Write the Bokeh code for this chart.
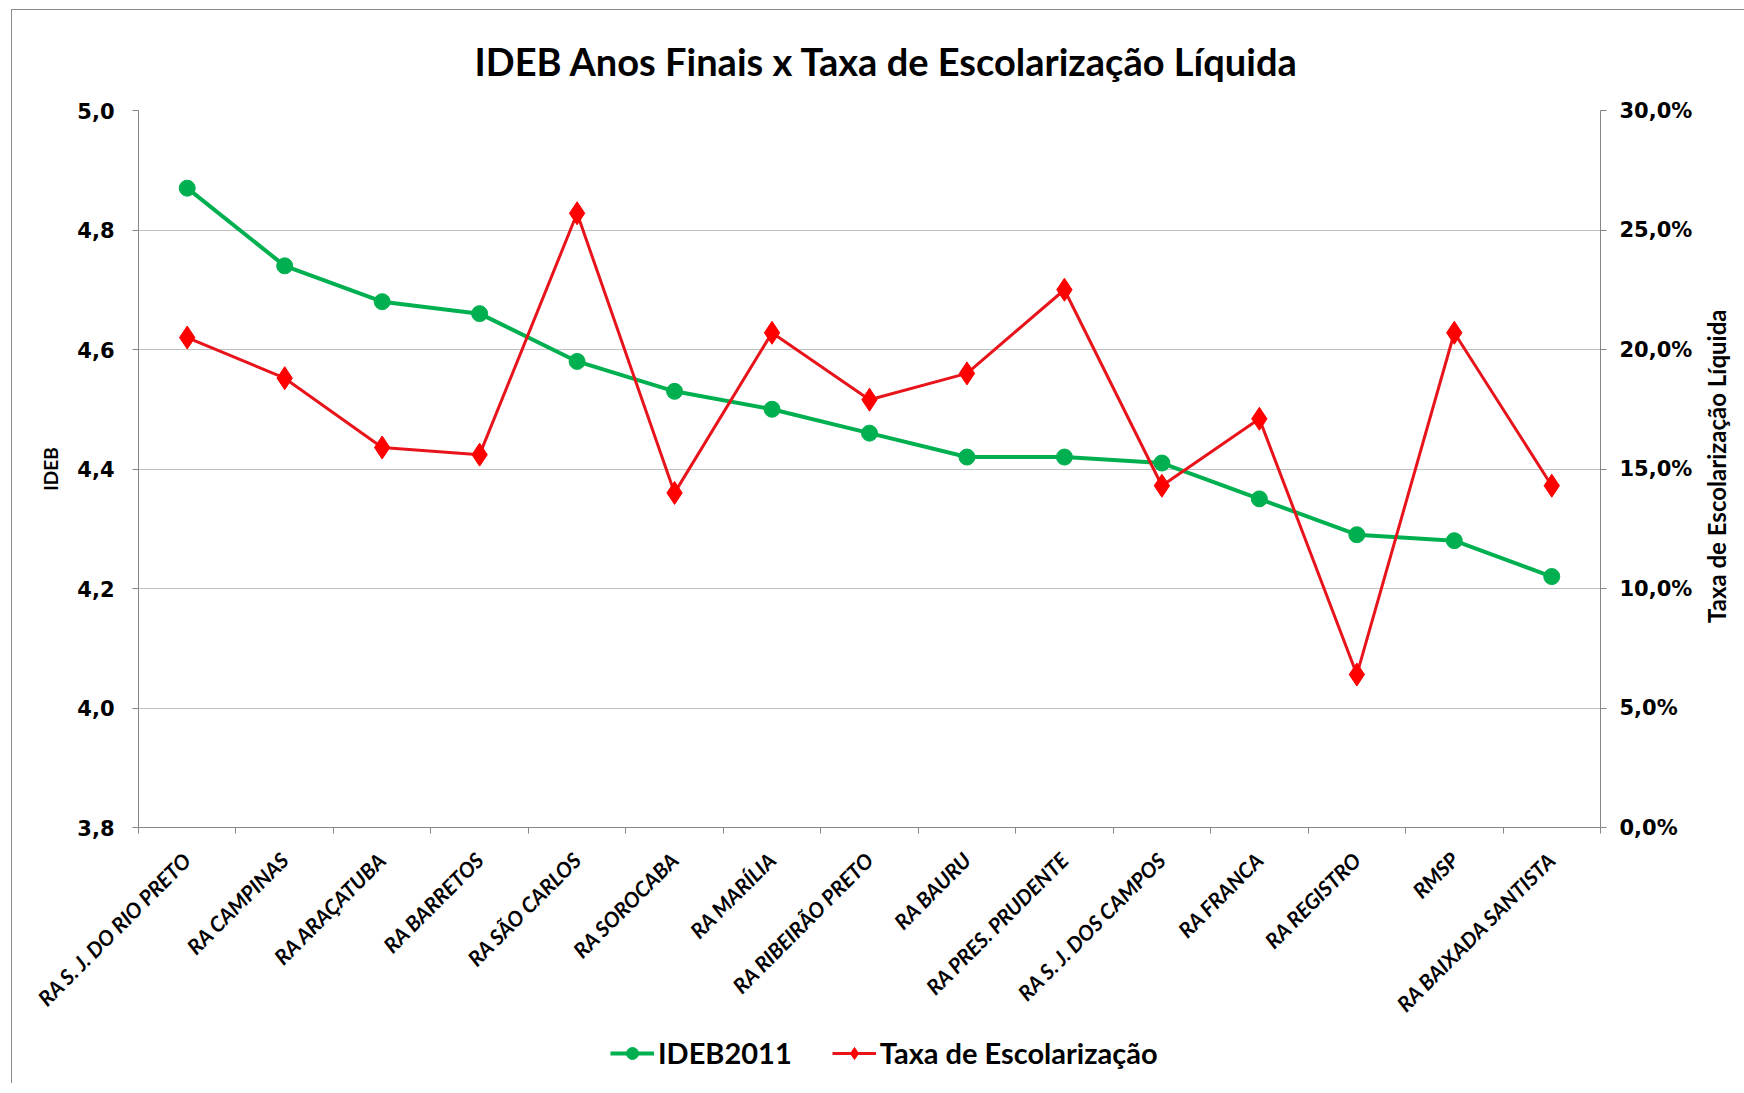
import math
from bokeh.plotting import figure
from bokeh.layouts import column
from bokeh.models import (Range1d, LinearAxis, FixedTicker, CustomJSTickFormatter,
                          Legend, LegendItem, Grid)
from bokeh.embed import file_html
from bokeh.resources import INLINE

regions = ["RA S. J. DO RIO PRETO", "RA CAMPINAS", "RA ARAÇATUBA", "RA BARRETOS",
           "RA SÃO CARLOS", "RA SOROCABA", "RA MARÍLIA", "RA RIBEIRÃO PRETO",
           "RA BAURU", "RA PRES. PRUDENTE", "RA S. J. DOS CAMPOS", "RA FRANCA",
           "RA REGISTRO", "RMSP", "RA BAIXADA SANTISTA"]
ideb2011 = [4.87, 4.74, 4.68, 4.66, 4.58, 4.53, 4.50, 4.46, 4.42, 4.42, 4.41, 4.35, 4.29, 4.28, 4.22]
taxa = [20.5, 18.8, 15.9, 15.6, 25.7, 14.0, 20.7, 17.9, 19.0, 22.5, 14.3, 17.1, 6.4, 20.7, 14.3]
ideb_ticks = [3.8, 4.0, 4.2, 4.4, 4.6, 4.8, 5.0]
taxa_ticks = [0, 5, 10, 15, 20, 25, 30]
title_text = "IDEB Anos Finais x Taxa de Escolarização Líquida"
right_title = "Taxa de Escolarização Líquida"

GREEN = "#00B050"
RED = "#FF0000"
REDLINE = "#E8141B"
AXIS = "#868686"
GRID = "#C0C0C0"

FRAME_H = 717
xs = list(range(len(regions)))

p = figure(frame_width=1462, frame_height=FRAME_H, output_backend="svg", toolbar_location=None,
           x_range=Range1d(-0.5, len(regions) - 0.5), y_range=Range1d(3.8, 5.0),
           min_border_left=126, min_border_right=137, min_border_top=100,
           min_border_bottom=200, x_axis_location=None, y_axis_location=None)
p.outline_line_color = None
p.background_fill_color = "white"
p.border_fill_color = "white"
p.extra_y_ranges = {"taxa": Range1d(0, 30)}

p.title.text = title_text
p.title.align = "left"
p.title.offset = 336
p.title.standoff = 50
p.title.vertical_align = "top"
p.title.text_font = "Lato"
p.title.text_font_style = "bold"
p.title.text_font_size = "38px"
p.title.text_color = "black"

# Left axis
yl = LinearAxis(ticker=FixedTicker(ticks=ideb_ticks))
yl.formatter = CustomJSTickFormatter(code="return tick.toFixed(1).replace('.', ',');")
yl.axis_label = "IDEB"
yl.axis_label_text_font = "Lato"
yl.axis_label_text_font_style = "bold"
yl.axis_label_text_font_size = "19px"
yl.axis_label_text_color = "black"
yl.axis_label_standoff = 12
yl.major_label_text_font = "DejaVu Sans"
yl.major_label_text_font_style = "bold"
yl.major_label_text_font_size = "21px"
yl.major_label_text_color = "black"
yl.major_label_standoff = 18
yl.axis_line_color = AXIS
yl.major_tick_line_color = AXIS
yl.major_tick_out = 6
yl.major_tick_in = 0
yl.minor_tick_line_color = None
p.add_layout(yl, "left")

# Right axis
yr = LinearAxis(y_range_name="taxa", ticker=FixedTicker(ticks=taxa_ticks))
yr.formatter = CustomJSTickFormatter(code="return tick.toFixed(1).replace('.', ',') + '%';")
yr.major_label_text_font = "DejaVu Sans"
yr.major_label_text_font_style = "bold"
yr.major_label_text_font_size = "21px"
yr.major_label_text_color = "black"
yr.major_label_standoff = 13
yr.axis_line_color = AXIS
yr.major_tick_line_color = AXIS
yr.major_tick_out = 6
yr.major_tick_in = 0
yr.minor_tick_line_color = None
p.add_layout(yr, "right")

# Right axis title (bottom-to-top, centred on the frame)
TITLE_LEN_PX = 308
mid = 15 - (TITLE_LEN_PX / 2) / FRAME_H * 30
yt = LinearAxis(y_range_name="taxa", ticker=FixedTicker(ticks=[mid]))
yt.formatter = CustomJSTickFormatter(code="return %r;" % right_title)
yt.major_label_orientation = math.pi / 2
yt.major_label_text_font = "Lato"
yt.major_label_text_font_style = "bold"
yt.major_label_text_font_size = "24px"
yt.major_label_text_color = "black"
yt.major_label_standoff = 21
yt.axis_line_color = None
yt.major_tick_line_color = None
yt.major_tick_out = 0
yt.major_tick_in = 0
yt.minor_tick_line_color = None
p.add_layout(yt, "right")

# Bottom axis
xa = LinearAxis(ticker=FixedTicker(ticks=xs, minor_ticks=[i - 0.5 for i in range(len(regions) + 1)]))
xa.major_label_overrides = {i: r for i, r in enumerate(regions)}
xa.major_label_orientation = math.pi / 4
xa.major_label_text_font = "Lato"
xa.major_label_text_font_style = "bold italic"
xa.major_label_text_font_size = "21px"
xa.major_label_text_color = "black"
xa.major_label_standoff = 22
xa.axis_line_color = AXIS
xa.major_tick_line_color = None
xa.minor_tick_line_color = AXIS
xa.minor_tick_out = 6
xa.minor_tick_in = 0
p.add_layout(xa, "below")

p.xgrid.visible = False
p.ygrid.visible = False
g = Grid(dimension=1, ticker=FixedTicker(ticks=ideb_ticks[1:]), grid_line_color=GRID, grid_line_width=1)
p.add_layout(g)

# Series
p.line(xs, ideb2011, line_color=GREEN, line_width=4)
p.scatter(xs, ideb2011, marker="circle", size=16, fill_color=GREEN, line_color=GREEN)
p.line(xs, taxa, line_color=REDLINE, line_width=3, y_range_name="taxa")
p.scatter(xs, taxa, marker="diamond", size=23, fill_color=RED, line_color=RED, y_range_name="taxa")

# Legend strip (same series styles; its frame shows only the legend)
lf = figure(width=1725, height=56, output_backend="svg", toolbar_location=None,
            x_range=Range1d(-100, -99), y_range=Range1d(-100, -99),
            min_border=0, x_axis_location=None, y_axis_location=None)
lf.outline_line_color = None
lf.xgrid.visible = False
lf.ygrid.visible = False
gl = lf.line(xs, ideb2011, line_color=GREEN, line_width=4)
gs = lf.scatter(xs, ideb2011, marker="circle", size=15, fill_color=GREEN, line_color=GREEN)
rl = lf.line(xs, taxa, line_color=REDLINE, line_width=3)
rs = lf.scatter(xs, taxa, marker="diamond", size=21, fill_color=RED, line_color=RED)

legend = Legend(items=[LegendItem(label="IDEB2011", renderers=[gl, gs]),
                       LegendItem(label="Taxa de Escolarização", renderers=[rl, rs])],
                orientation="horizontal", location=(472, 13))
legend.label_text_font = "Lato"
legend.label_text_font_style = "bold"
legend.label_text_font_size = "29px"
legend.label_text_color = "black"
legend.glyph_width = 44
legend.glyph_height = 30
legend.spacing = 40
legend.label_standoff = 4
legend.padding = 0
legend.margin = 0
legend.border_line_color = None
legend.background_fill_alpha = 0
lf.add_layout(legend, "center")

layout = column(p, lf, spacing=0)
layout.styles = {"margin-left": "11px", "margin-top": "9px", "background": "white",
                 "border-top": "1px solid #8c8c8c", "border-left": "1px solid #8c8c8c"}

open("out.html", "w").write(file_html(layout, INLINE))
